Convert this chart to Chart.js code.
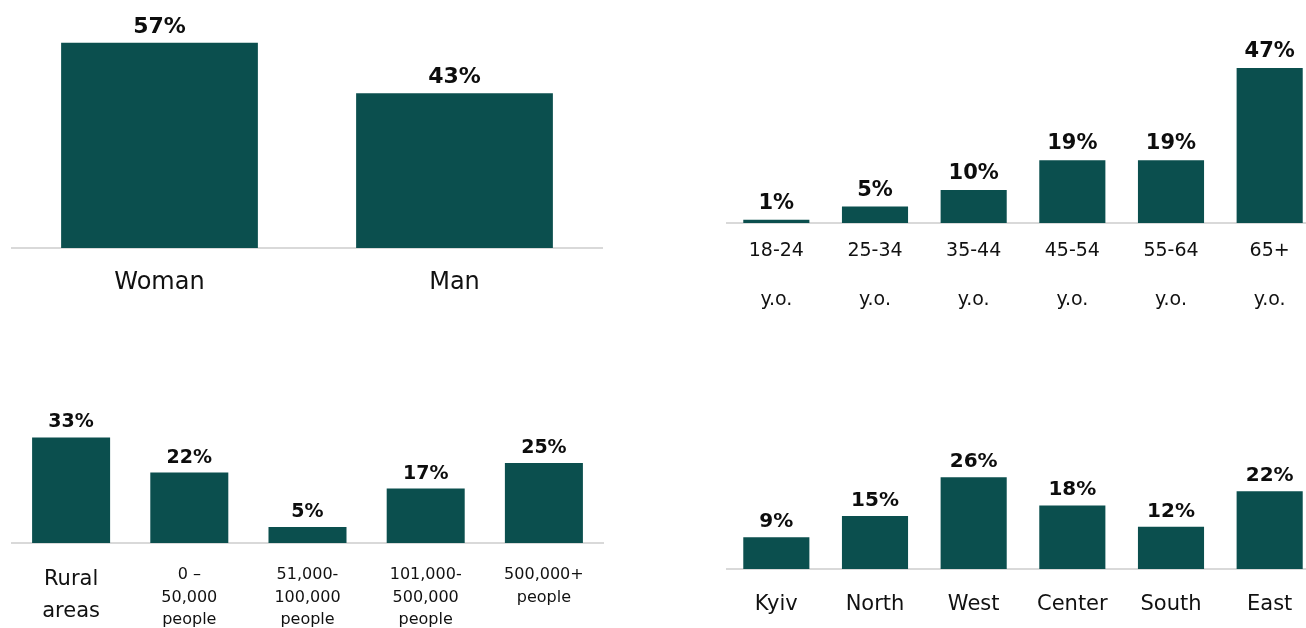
<!DOCTYPE html>
<html>
<head>
<meta charset="utf-8">
<script src="https://cdn.jsdelivr.net/npm/chart.js@4/dist/chart.umd.min.js"></script>
<style>
  html, body { margin: 0; padding: 0; background: #ffffff; width: 1306px; height: 628px; overflow: hidden; position: relative; }
  canvas { position: absolute; }
</style>
</head>
<body>
<canvas id="c1" width="615" height="310" style="left:0px;top:0px;width:615px;height:310px"></canvas>
<canvas id="c2" width="630" height="320" style="left:700px;top:0px;width:630px;height:320px"></canvas>
<canvas id="c3" width="615" height="238" style="left:0px;top:390px;width:615px;height:238px"></canvas>
<canvas id="c4" width="630" height="198" style="left:700px;top:430px;width:630px;height:198px"></canvas>
<script>
// ---- Data ----
const genderLabels = ['Woman', 'Man'];
const genderValues = [57, 43];

const ageLabels = [['18-24', 'y.o.'], ['25-34', 'y.o.'], ['35-44', 'y.o.'], ['45-54', 'y.o.'], ['55-64', 'y.o.'], ['65+', 'y.o.']];
const ageValues = [1, 5, 10, 19, 19, 47];

const settlementLabels = [['Rural', 'areas'], ['0 –', '50,000', 'people'], ['51,000-', '100,000', 'people'], ['101,000-', '500,000', 'people'], ['500,000+', 'people']];
const settlementValues = [33, 22, 5, 17, 25];

const regionLabels = ['Kyiv', 'North', 'West', 'Center', 'South', 'East'];
const regionValues = [9, 15, 26, 18, 12, 22];

// ---- Styling ----
const BAR = '#0b4f4e';
const AXIS = '#d9d9d9';
const FONT = "'DejaVu Sans', Verdana, sans-serif";

const valueLabelPlugin = {
  id: 'valueLabels',
  afterDatasetsDraw(chart, args, opts) {
    const ctx = chart.ctx;
    const meta = chart.getDatasetMeta(0);
    const data = chart.data.datasets[0].data;
    ctx.save();
    ctx.font = 'bold ' + opts.size + 'px ' + FONT;
    ctx.fillStyle = '#0d0d0d';
    ctx.textAlign = 'center';
    ctx.textBaseline = 'alphabetic';
    meta.data.forEach((bar, i) => {
      ctx.fillText(data[i] + '%', bar.x, bar.y - opts.gap);
    });
    ctx.restore();
  }
};

function makeChart(id, labels, values, cfg) {
  return new Chart(document.getElementById(id), {
    type: 'bar',
    data: {
      labels: labels,
      datasets: [{
        data: values,
        backgroundColor: BAR,
        borderWidth: 0,
        barPercentage: cfg.barPct,
        categoryPercentage: 1
      }]
    },
    options: {
      responsive: false,
      animation: false,
      events: [],
      layout: { padding: { left: cfg.padL, right: cfg.padR, top: cfg.padT, bottom: 0 } },
      plugins: {
        legend: { display: false },
        tooltip: { enabled: false },
        valueLabels: { size: cfg.valSize, gap: cfg.valGap }
      },
      scales: {
        y: { display: false, min: 0, max: cfg.max },
        x: {
          grid: { display: false, drawTicks: false },
          border: { display: true, color: AXIS, width: 2 },
          ticks: {
            autoSkip: false,
            maxRotation: 0,
            minRotation: 0,
            padding: cfg.tickPad,
            color: '#111111',
            font: cfg.tickFont
          },
          afterFit: (scale) => { scale.height = cfg.axisH; }
        }
      }
    },
    plugins: [valueLabelPlugin]
  });
}

// Gender
makeChart('c1', genderLabels, genderValues, {
  barPct: 0.667, padL: 12, padR: 13, padT: 14, max: 65, axisH: 62,
  tickPad: 20, tickFont: { family: FONT, size: 24, lineHeight: 1.2 },
  valSize: 22, valGap: 10
});

// Age
makeChart('c2', ageLabels, ageValues, {
  barPct: 0.67, padL: 27, padR: 11, padT: 25, max: 60, axisH: 97,
  tickPad: 4, tickFont: { family: FONT, size: 19, lineHeight: 2.55 },
  valSize: 21, valGap: 11
});

// Settlement size
makeChart('c3', settlementLabels, settlementValues, {
  barPct: 0.66, padL: 12, padR: 12, padT: 25, max: 40, axisH: 85,
  tickPad: 21,
  tickFont: (ctx) => ctx.index === 0
    ? { family: FONT, size: 21, lineHeight: 1.5 }
    : { family: FONT, size: 16, lineHeight: 1.4 },
  valSize: 19, valGap: 10
});

// Region
makeChart('c4', regionLabels, regionValues, {
  barPct: 0.67, padL: 27, padR: 11, padT: 26, max: 32, axisH: 59,
  tickPad: 23, tickFont: { family: FONT, size: 21, lineHeight: 1.2 },
  valSize: 20, valGap: 10
});
</script>
</body>
</html>
